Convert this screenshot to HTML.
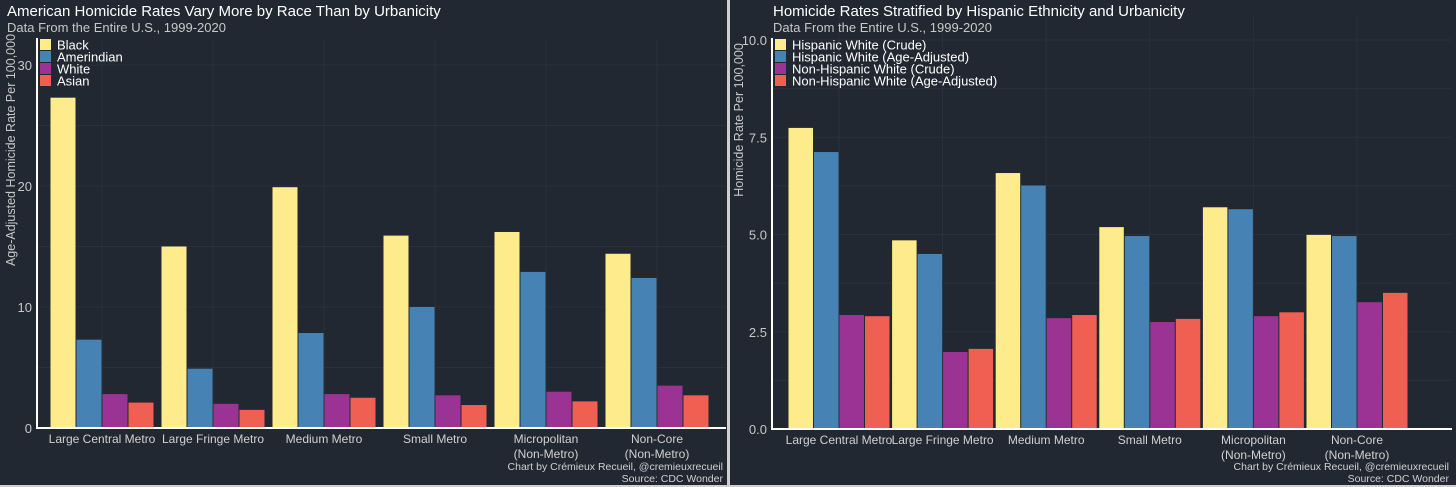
<!DOCTYPE html>
<html><head><meta charset="utf-8"><style>
html,body{margin:0;padding:0;background:#d0d0d0;}
svg{display:block;font-family:"Liberation Sans",sans-serif;}
</style></head><body>
<svg id="s" width="1456" height="487" xmlns="http://www.w3.org/2000/svg">
<rect x="0" y="0" width="1456" height="487" fill="#cfcfcf"/>
<rect x="0" y="0" width="727" height="485" fill="#222831"/>
<rect x="730" y="0" width="726" height="485" fill="#222831"/>
<g id="L"></g>
<g id="R"></g>
</svg>
<script>
const categories=["Large Central Metro","Large Fringe Metro","Medium Metro","Small Metro","Micropolitan|(Non-Metro)","Non-Core|(Non-Metro)"];
const leftSeriesNames=["Black","Amerindian","White","Asian"];
const leftBlack=[27.3,15.0,19.9,15.9,16.2,14.4];
const leftAmerindian=[7.3,4.9,7.85,10.0,12.9,12.4];
const leftWhite=[2.8,2.0,2.8,2.7,3.0,3.5];
const leftAsian=[2.1,1.5,2.5,1.9,2.2,2.7];
const leftTicks=[0,10,20,30];
const rightSeriesNames=["Hispanic White (Crude)","Hispanic White (Age-Adjusted)","Non-Hispanic White (Crude)","Non-Hispanic White (Age-Adjusted)"];
const rightHWCrude=[7.74,4.85,6.58,5.19,5.7,4.99];
const rightHWAdj=[7.12,4.5,6.26,4.96,5.65,4.96];
const rightNHWCrude=[2.93,1.98,2.85,2.75,2.9,3.26];
const rightNHWAdj=[2.9,2.06,2.93,2.83,3.0,3.5];
const rightTicks=[0,2.5,5,7.5,10];
const rightTickLabels=["0.0","2.5","5.0","7.5","10.0"];

const colors=["#fdeb8c","#4682b4","#9a3393","#ef5f52"];
const NS="http://www.w3.org/2000/svg";
function mk(p,t,a,txt){const e=document.createElementNS(NS,t);for(const k in a)e.setAttribute(k,a[k]);if(txt!==undefined)e.textContent=txt;p.appendChild(e);return e;}

function drawChart(g,o){
  const y=v=>o.y0-(v/o.ymax)*(o.y0-o.ytop);
  const x=i=>o.c0+i*o.step;
  for(let v=0;v<=o.ymax+1e-9;v+=o.minor){const e=mk(g,'line',{x1:o.ax,x2:o.xr,y1:y(v),y2:y(v),stroke:'#2a313a','stroke-width':1});
    
    }
  categories.forEach((c,i)=>{const e=mk(g,'line',{x1:x(i),x2:x(i),y1:o.ytop-25,y2:o.y0,stroke:'#2a313a','stroke-width':1});
    
    });
  o.series.forEach((s,si)=>{s.forEach((v,i)=>{
    const bx=x(i)-2*o.bw-1.5+si*(o.bw+1);
    const r=mk(g,'rect',{x:bx,y:y(v),width:o.bw,height:o.y0-y(v),fill:colors[si]});
    
    
  });});
  let a=mk(g,'line',{x1:o.ax,x2:o.ax,y1:38,y2:o.y0+1,stroke:'#fff','stroke-width':2});
  
  
  a=mk(g,'line',{x1:o.ax-1,x2:o.xr,y1:o.y0,y2:o.y0,stroke:'#fff','stroke-width':2});
  
  
  o.ticks.forEach((v,i)=>{const t=mk(g,'text',{x:o.ax-5,y:y(v)+5,'text-anchor':'end','font-size':13,fill:'#c8c8c8'},o.tickLabels[i]);
    
    });
  categories.forEach((c,i)=>{c.split('|').forEach((ln,li)=>{
    const t=mk(g,'text',{x:x(i),y:o.y0+15+li*15,'text-anchor':'middle','font-size':12,fill:'#d0d0d0',textLength:undefined},ln);
    t.removeAttribute('textLength');
    
    });});
  let t=mk(g,'text',{x:o.tx,y:16,'font-size':15,fill:'#fff'},o.title);
  
  
  t=mk(g,'text',{x:o.tx,y:32,'font-size':13,fill:'#c8c8c8'},'Data From the Entire U.S., 1999-2020');
  
  
  t=mk(g,'text',{x:0,y:0,'font-size':12.5,fill:'#c8c8c8','text-anchor':'middle',transform:`translate(${o.ylx},${o.yly}) rotate(-90)`},o.ylabel);
  
  
  o.names.forEach((n,i)=>{
    const r=mk(g,'rect',{x:o.ax+3,y:39+i*12,width:11,height:11,fill:colors[i]});
    
    
    const lt=mk(g,'text',{x:o.ax+20,y:49.5+i*12,'font-size':13,fill:'#fff'},n);
    
    
  });
  t=mk(g,'text',{x:o.xr-3,y:470,'font-size':10.5,fill:'#d0d0d0','text-anchor':'end'},'Chart by Crémieux Recueil, @cremieuxrecueil');
  
  
  t=mk(g,'text',{x:o.xr-3,y:482,'font-size':10.5,fill:'#d0d0d0','text-anchor':'end'},'Source: CDC Wonder');
  
  
}
drawChart(document.getElementById('L'),{y0:428,ytop:65,ymax:30,minor:5,ax:37,xr:726,c0:102,step:111,bw:25,
  series:[leftBlack,leftAmerindian,leftWhite,leftAsian],keys:["black","amerindian","white","asian"],names:leftSeriesNames,
  ticks:leftTicks,tickLabels:leftTicks.map(String),title:'American Homicide Rates Vary More by Race Than by Urbanicity',tx:7,
  ylabel:'Age-Adjusted Homicide Rate Per 100,000',ylx:15,yly:150});
drawChart(document.getElementById('R'),{y0:429,ytop:40,ymax:10,minor:1.25,ax:772,xr:1452,c0:839,step:103.6,bw:24.5,
  series:[rightHWCrude,rightHWAdj,rightNHWCrude,rightNHWAdj],keys:["hw-crude","hw-adj","nhw-crude","nhw-adj"],names:rightSeriesNames,
  ticks:rightTicks,tickLabels:rightTickLabels,title:'Homicide Rates Stratified by Hispanic Ethnicity and Urbanicity',tx:773,
  ylabel:'Homicide Rate Per 100,000',ylx:743,yly:120});
</script>
</body></html>
